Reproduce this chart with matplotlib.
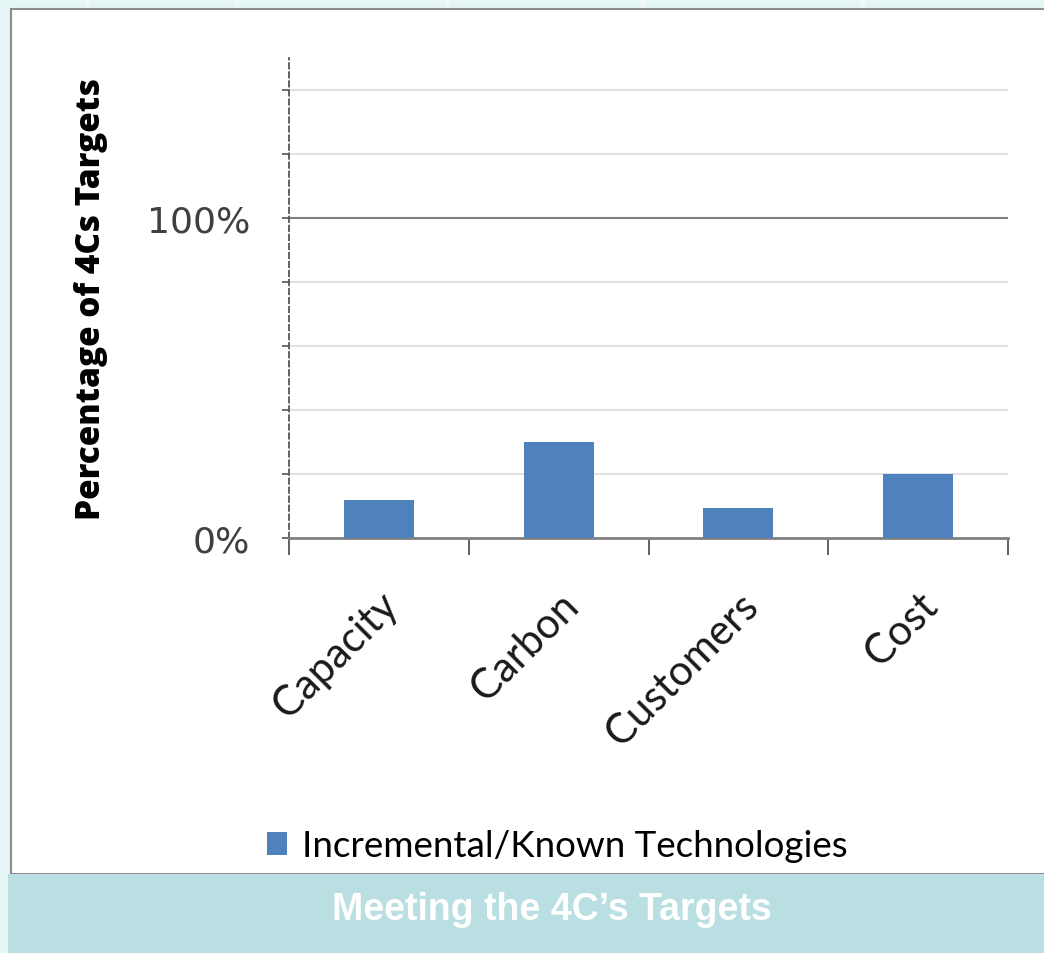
import matplotlib.pyplot as plt
import matplotlib.patches as patches
import numpy as np

# Data
categories = ['Capacity', 'Carbon', 'Customers', 'Cost']
values = [12, 30, 9.5, 20]          # percent of target
series_name = 'Incremental/Known Technologies'
title = 'Meeting the 4C\u2019s Targets'
ylabel = 'Percentage of 4Cs Targets'

bar_color = '#4f81bd'

fig = plt.figure(figsize=(10.44, 9.54), dpi=100)

# Background, white panel and caption band (figure coordinates)
W, H = 1044, 954
def fx(px): return px / W
def fy(py): return 1 - py / H

fig.patches.append(patches.Rectangle((0, 0), 1, 1, transform=fig.transFigure,
                                     facecolor='#e6f5f5', edgecolor='none', zorder=-3))
for gx in [85, 235, 445, 640, 860]:
    fig.patches.append(patches.Rectangle((fx(gx), 0), fx(5), 1, transform=fig.transFigure,
                                         facecolor='#eff9f9', edgecolor='none', zorder=-2))
fig.patches.append(patches.Rectangle((fx(11), fy(875)), 1.1, fy(10) - fy(875),
                                     transform=fig.transFigure, facecolor='white',
                                     edgecolor='#8c8c8c', linewidth=1.5, zorder=-1))
fig.patches.append(patches.Rectangle((fx(8), 0), 1, fy(875), transform=fig.transFigure,
                                     facecolor='#b9dfe2', edgecolor='none', zorder=0))
fig.text(fx(552), fy(910), title, ha='center', va='center', color='white',
         fontsize=27, fontweight='bold', family='Liberation Sans')

# Chart axes
ax = fig.add_axes([fx(289), fy(539), fx(1008) - fx(289), fy(59) - fy(539)])
ax.set_facecolor('none')
x = np.arange(len(categories))
ax.bar(x, np.array(values) / 100, width=0.39, color=bar_color, zorder=3,
       label=series_name)

ax.set_xlim(-0.5, len(categories) - 0.5)
ax.set_ylim(0, 1.5)

# gridlines every 20%, the 100% line darker
for g in np.arange(0.2, 1.5, 0.2):
    dark = abs(g - 1.0) < 1e-6
    ax.axhline(g, color='#808080' if dark else '#dcdcdc',
               linewidth=1.5 if dark else 1.2, zorder=1)

ax.spines[['top', 'right']].set_visible(False)
ax.spines['left'].set_linestyle((0, (3, 2)))
ax.spines['left'].set_color('#555555')
ax.spines['left'].set_linewidth(1.3)
ax.spines['bottom'].set_color('#808080')
ax.spines['bottom'].set_linewidth(2)

ax.set_yticks(np.arange(0, 1.5, 0.2))
ax.set_yticklabels(['0%' if abs(t) < 1e-6 else '100%' if abs(t - 1) < 1e-6 else ''
                    for t in np.arange(0, 1.5, 0.2)])
ax.tick_params(axis='y', length=5, width=1.2, color='#555555', labelsize=26,
               labelcolor='#404040', pad=23)
for lab in ax.get_yticklabels():
    lab.set_family('DejaVu Sans')

ax.set_xticks(np.arange(-0.5, len(categories), 1.0), minor=True)
ax.set_xticks(x)
ax.set_xticklabels(categories, rotation=45, ha='right', rotation_mode='anchor',
                   fontsize=30, family='Lato', color='#1a1a1a')
ax.tick_params(axis='x', which='major', length=0, pad=34)
ax.tick_params(axis='x', which='minor', length=12, width=1.3, color='#555555')

ax.set_ylabel(ylabel, fontsize=24, fontweight='heavy', family='Open Sans')
ax.yaxis.set_label_coords(-(289 - 108) / (1008 - 289), 0.5)

fig.legend(loc='center', bbox_to_anchor=(fx(557), fy(847)), frameon=False,
           prop={'family': 'Lato', 'size': 26.5}, handlelength=0.55, handleheight=0.55,
           handletextpad=0.4)

fig.savefig('out.png', dpi=100)
